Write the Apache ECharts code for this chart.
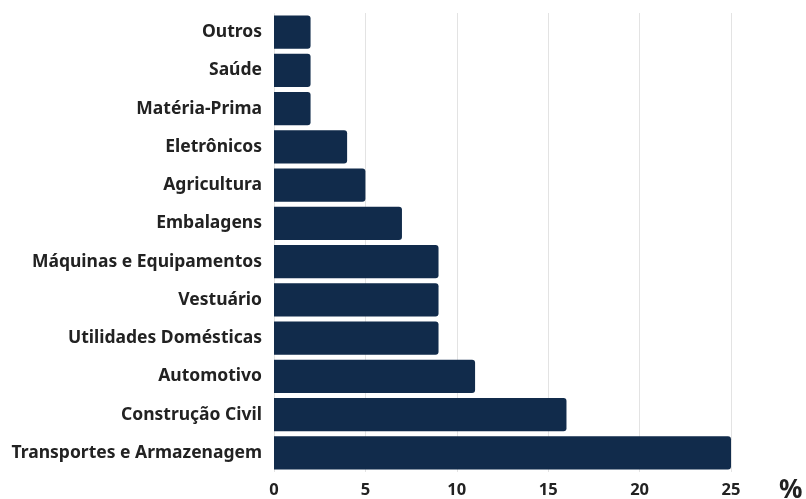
<!DOCTYPE html>
<html><head><meta charset="utf-8">
<script src="https://cdn.jsdelivr.net/npm/echarts@6/dist/echarts.min.js"></script>
<style>html,body{margin:0;padding:0;background:#fff}#c{width:806px;height:499px}</style>
</head><body><div id="c"></div>
<script>
const categories = ["Transportes e Armazenagem","Construção Civil","Automotivo","Utilidades Domésticas","Vestuário","Máquinas e Equipamentos","Embalagens","Agricultura","Eletrônicos","Matéria-Prima","Saúde","Outros"];
const values = [25,16,11,9,9,9,7,5,4,2,2,2];
const ticks = [0,5,10,15,20,25];
const chart = echarts.init(document.getElementById('c'));
chart.setOption({
  animation:false,
  grid:{left:274,right:75,top:13,bottom:27,containLabel:false,outerBoundsMode:'none'},
  xAxis:{type:'value',min:0,max:25,interval:5,
    name:'%',nameLocation:'end',nameGap:48,
    nameTextStyle:{fontFamily:'Noto Sans',fontWeight:'bold',fontSize:26,color:'#222',verticalAlign:'top',padding:[6,0,0,0]},
    axisLine:{show:false},axisTick:{show:false},
    axisLabel:{fontFamily:'Noto Sans',fontWeight:'bold',fontSize:16.5,color:'#222',margin:10,
      formatter:v=>ticks.includes(v)?String(v):''},
    splitLine:{show:true,lineStyle:{color:'#e3e3e3',width:1}}},
  yAxis:{type:'category',data:categories,
    axisLine:{show:false},axisTick:{show:false},
    axisLabel:{fontFamily:'Noto Sans',fontWeight:'bold',fontSize:17.5,color:'#222',margin:12}},
  series:[{type:'bar',data:values,barCategoryGap:'13%',
    itemStyle:{color:'#112b4b',borderRadius:[0,3,3,0]}}]
});
</script></body></html>
